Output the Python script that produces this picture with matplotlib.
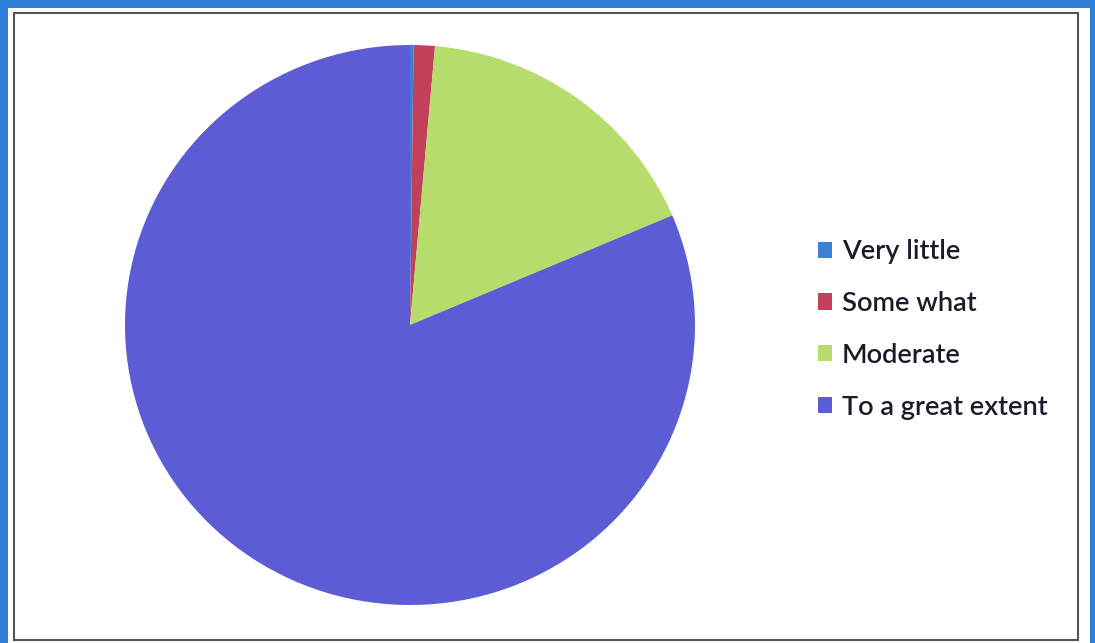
import matplotlib
matplotlib.use("Agg")
import matplotlib.pyplot as plt
from matplotlib.patches import Rectangle

categories = ["Very little", "Some what", "Moderate", "To a great extent"]
values = [0.2, 1.2, 17.2, 81.4]
colors = ["#3b80d6", "#c2405a", "#b6dc6c", "#5c5cd4"]

W, H = 1095, 643
fig = plt.figure(figsize=(W / 100, H / 100), dpi=100)
fig.patch.set_facecolor("#2f7fd9")

# white paper area
fig.patches.append(Rectangle((8 / W, 0), (1090 - 8) / W, (H - 8) / H,
                             transform=fig.transFigure, facecolor="white",
                             edgecolor="none", zorder=-2))
# gray chart frame
fig.patches.append(Rectangle((14 / W, (H - 640) / H), (1078 - 14) / W, (640 - 13) / H,
                             transform=fig.transFigure, facecolor="none",
                             edgecolor="#555555", linewidth=1.5, zorder=-1))

cx, cy, rx, ry = 410, 325, 285, 280
ax = fig.add_axes([(cx - rx) / W, (H - cy - ry) / H, 2 * rx / W, 2 * ry / H])
ax.set_zorder(1)
wedges, _ = ax.pie(values, colors=colors, startangle=90, counterclock=False,
                   radius=1.0, wedgeprops=dict(linewidth=0))
ax.set_aspect("auto")
ax.set_xlim(-1, 1)
ax.set_ylim(-1, 1)
ax.axis("off")

leg = fig.legend(wedges, categories, loc="upper left",
                 bbox_to_anchor=(793 / W, (H - 215) / H),
                 frameon=False, handlelength=0.55, handleheight=0.55,
                 handletextpad=0.35, labelspacing=0.98,
                 prop=dict(family="Lato", size=19.6, weight="semibold"))
leg.set_zorder(2)
for t in leg.get_texts():
    t.set_color("#1a1a2a")

fig.savefig("out.png", dpi=100, facecolor=fig.get_facecolor())
